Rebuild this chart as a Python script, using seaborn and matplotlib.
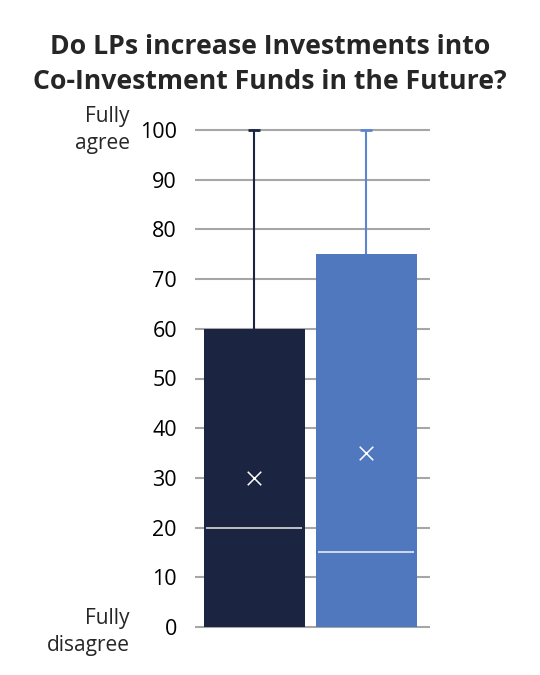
import matplotlib
matplotlib.use("Agg")
import matplotlib.pyplot as plt
import pandas as pd
import seaborn as sns

groups = ["Group A", "Group B"]
box_top = [60, 75]
medians = [20, 15]
means = [30, 35]
whisker_top = [100, 100]
y_ticks = [0, 10, 20, 30, 40, 50, 60, 70, 80, 90, 100]

box_colors = ["#1B2440", "#5078BE"]
whisker_colors = ["#1B2440", "#5B87D0"]
median_colors = ["#D9D9D9", "#E4EBF7"]

sns.set_theme(style="white")
plt.rcParams["font.family"] = ["Open Sans", "DejaVu Sans"]

df = pd.DataFrame({"group": groups, "top": box_top})

fig = plt.figure(figsize=(5.4, 6.75), dpi=100)
ax = fig.add_axes([195 / 540, 43 / 675, 235 / 540, 507 / 675])

# grid first so boxes sit above it
for t in y_ticks:
    ax.axhline(t, color="#A6A6A6", lw=1.5, zorder=0)

sns.barplot(data=df, x="group", y="top", hue="group", palette=box_colors,
            saturation=1, width=0.9, legend=False, ax=ax, zorder=2,
            linewidth=0)

for i in range(len(groups)):
    ax.vlines(i, box_top[i], whisker_top[i], color=whisker_colors[i],
              lw=1.5, zorder=3)
    ax.hlines(whisker_top[i], i - 0.055, i + 0.055, color=whisker_colors[i],
              lw=2, zorder=3)
    ax.hlines(medians[i], i - 0.43, i + 0.43, color=median_colors[i],
              lw=1.2, zorder=3)
ax.scatter(range(len(groups)), means, marker="x", s=95, color="white",
           linewidths=1.1, zorder=4)

ax.set_xlim(-0.53, 1.57)
ax.set_ylim(-1, 101)
ax.set_yticks(y_ticks)
ax.set_yticklabels([str(t) for t in y_ticks])
ax.tick_params(axis="y", length=0, pad=13, labelsize=15.5, colors="black")
ax.set_xticks([])
ax.set_xlabel("")
ax.set_ylabel("")
for s in ax.spines.values():
    s.set_visible(False)

tr = ax.get_yaxis_transform()
ax.text(-0.277, 100, "Fully\nagree", transform=tr, ha="right", va="center",
        multialignment="right", fontsize=15, linespacing=1.4)
ax.text(-0.277, -1, "Fully\ndisagree", transform=tr, ha="right",
        va="center", multialignment="right", fontsize=15, linespacing=1.4)

fig.text(0.5, 0.905, "Do LPs increase Investments into\n"
         "Co-Investment Funds in the Future?", ha="center", va="center",
         fontsize=19.2, fontweight="bold", linespacing=1.45)

fig.savefig("out.png", dpi=100)
